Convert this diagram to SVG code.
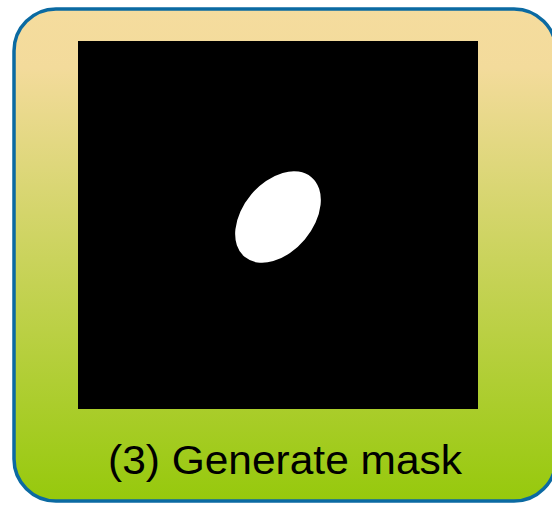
<svg xmlns="http://www.w3.org/2000/svg" width="552" height="505" viewBox="0 0 552 505">
  <defs>
    <linearGradient id="bg" x1="0" y1="0" x2="0" y2="1">
      <stop offset="0" stop-color="#F5DC9E"/>
      <stop offset="0.12" stop-color="#F3DB9B"/>
      <stop offset="1" stop-color="#96C90C"/>
    </linearGradient>
  </defs>
  <style>
    .frame { fill: url(#bg); stroke: #0B6AA2; stroke-width: 3.5; }
    .label { font-family: "Liberation Sans", Arial, sans-serif; font-size: 41px; fill: #000; }
  </style>
  <g id="panel">
    <rect class="frame" x="14" y="9" width="542" height="492" rx="42" ry="42"/>
  </g>
  <g id="mask">
    <rect x="78" y="41" width="400" height="368" fill="#000"/>
    <ellipse cx="278" cy="217" rx="52" ry="35" transform="rotate(-50 278 217)" fill="#fff"/>
  </g>
  <g id="caption">
    <text class="label" x="285" y="474" text-anchor="middle" textLength="354" lengthAdjust="spacingAndGlyphs">(3) Generate mask</text>
  </g>
  <g id="connectors"/>
</svg>
